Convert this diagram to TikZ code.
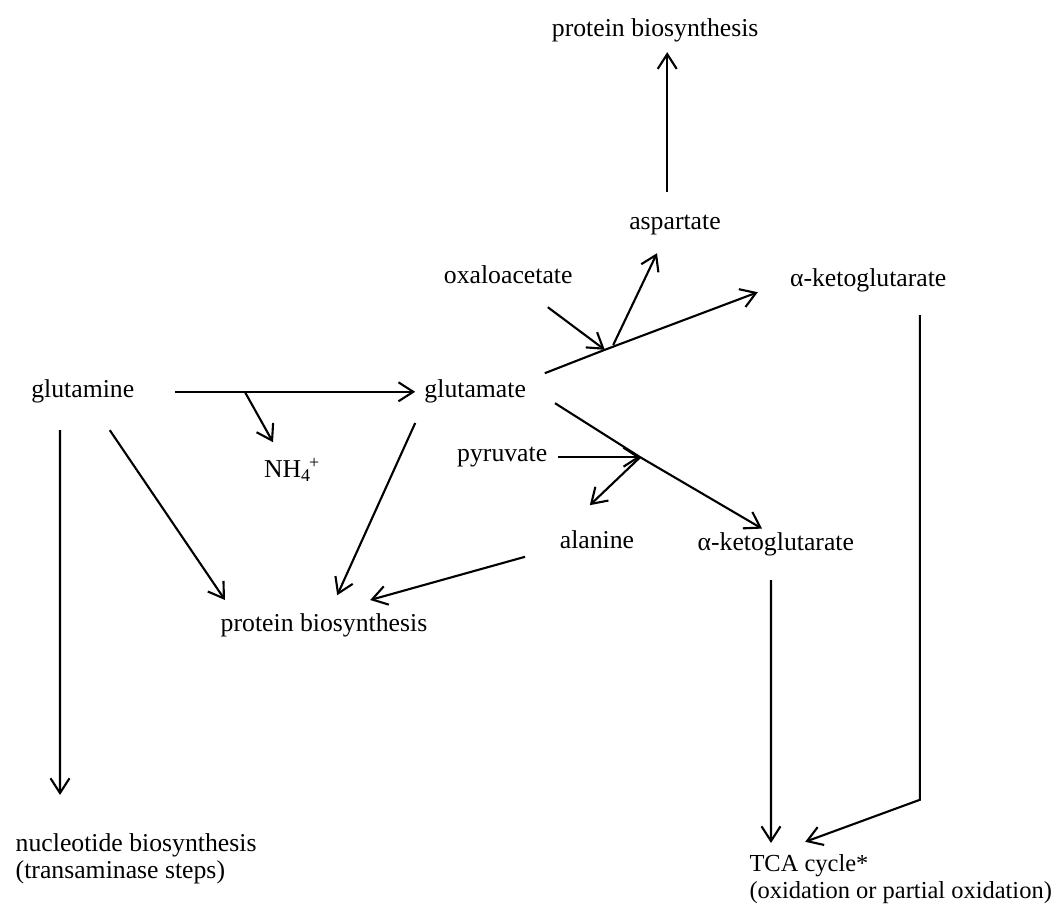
\documentclass[tikz,border=0pt]{standalone}
\usepackage{fontspec}
\setmainfont{Liberation Serif}
\usepackage{tikz}
\usetikzlibrary{arrows.meta,calc}

\begin{document}
\begin{tikzpicture}[x=1cm,y=1cm,
  lbl/.style={inner sep=1pt, font=\fontsize{12.2}{12.8}\selectfont},
  flow/.style={line width=1pt, -{Straight Barb[length=7pt,width=9pt,line width=1pt]}}]
  \useasboundingbox (0,0) rectangle (17.65,15.35);

  % metabolites
  \node[lbl] (prottop) at (10.92,14.85) {protein biosynthesis};
  \node[lbl] (asp) at (11.25,11.6) {aspartate};
  \node[lbl] (oxa) at (8.47,10.77) {oxaloacetate};
  \node[lbl] (akgtop) at (14.47,10.68) {α-ketoglutarate};
  \node[lbl] (gln) at (1.38,8.82) {glutamine};
  \node[lbl] (glu) at (7.92,8.82) {glutamate};
  \node[lbl] (nh) at (4.87,7.52) {NH\textsubscript{4}\kern-1pt\textsuperscript{+}};
  \node[lbl] (pyr) at (8.37,7.73) {pyruvate};
  \node[lbl] (ala) at (9.95,6.35) {alanine};
  \node[lbl] (akglow) at (12.93,6.27) {α-ketoglutarate};
  \node[lbl] (protmid) at (5.4,4.93) {protein biosynthesis};
  \node[lbl, anchor=west, align=left] (nuc) at (0.22,1.03) {nucleotide biosynthesis\\(transaminase steps)};
  \node[lbl, anchor=west, align=left, font=\fontsize{11.6}{12.8}\selectfont] (tca) at (12.45,0.7) {TCA cycle*\\(oxidation or partial oxidation)};

  % branch points
  \coordinate (jnh) at (4.08,8.82);
  \coordinate (jasp) at (10.08,9.52);
  \coordinate (jala) at (10.67,7.73);
  \coordinate (bend) at (15.33,2.02);

  % glutamine
  \draw[flow] ([xshift=1.54cm]gln.center) -- ([xshift=-1.0cm]glu.center);
  \draw[flow] (jnh) -- ([shift={(-0.32,0.46)}]nh.center);
  \draw[flow] ([shift={(-0.38,-0.64)}]gln.center) -- ([shift={(0.78,1.07)}]nuc.west);
  \draw[flow] ([shift={(0.45,-0.64)}]gln.center) -- ([shift={(-1.65,0.42)}]protmid.center);

  % glutamate
  \draw[flow] ([shift={(-1.0,-0.52)}]glu.center) -- ([shift={(0.22,0.5)}]protmid.center);
  \draw[flow] ([shift={(1.16,0.31)}]glu.center) -- (jasp) -- ([shift={(-1.84,-0.2)}]akgtop.center);
  \draw[flow] ([shift={(0.66,-0.54)}]oxa.center) -- (jasp);
  \draw[flow] ([shift={(0.14,0.08)}]jasp) -- ([shift={(-0.3,-0.47)}]asp.center);
  \draw[flow] ([shift={(-0.13,0.55)}]asp.center) -- ([shift={(0.2,-0.37)}]prottop.center);
  \draw[flow] ([shift={(1.33,-0.19)}]glu.center) -- (jala) -- ([shift={(-0.23,0.27)}]akglow.center);
  \draw[flow] ([shift={(0.93,0)}]pyr.center) -- (jala);
  \draw[flow] (jala) -- ([shift={(-0.12,0.58)}]ala.center);
  \draw[flow] ([shift={(-1.2,-0.28)}]ala.center) -- ([shift={(0.77,0.42)}]protmid.center);

  % TCA cycle
  \draw[flow] ([shift={(-0.08,-0.59)}]akglow.center) -- ([shift={(0.4,0.6)}]tca.west);
  \draw[flow] ([shift={(0.86,-0.58)}]akgtop.center) -- (bend) -- ([shift={(0.97,0.62)}]tca.west);
\end{tikzpicture}
\end{document}
